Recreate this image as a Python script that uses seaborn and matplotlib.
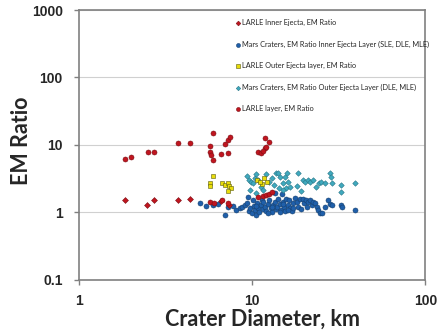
import numpy as np
import pandas as pd
import seaborn as sns
import matplotlib
matplotlib.use('Agg')
import matplotlib.pyplot as plt

# LARLE Inner Ejecta, EM Ratio (red diamonds)
larle_inner_d = [1.84, 2.48, 2.73, 3.74, 4.39, 6.65, 7.37]
larle_inner_r = [1.51, 1.31, 1.51, 1.51, 1.56, 1.47, 1.31]

# LARLE layer, EM Ratio (red circles)
larle_layer_d = [1.84, 2.0, 2.50, 2.73, 3.74, 4.39, 5.98, 5.72, 5.72, 5.78, 5.98, 6.65,
                 6.99, 7.24, 7.5, 7.28, 10.8, 11.3, 11.9, 12.5, 11.8, 12.1, 11.5,
                 10.8, 11.5, 12.0, 12.6, 13.1, 5.72, 6.0, 6.68, 7.24]
larle_layer_r = [6.17, 6.53, 7.74, 7.9, 10.6, 10.6, 14.8, 9.6, 7.74, 7.0, 5.96, 7.3,
                 10.4, 11.9, 13.1, 7.65, 7.74, 7.7, 12.6, 10.9, 9.08, 9.3, 8.2,
                 1.69, 1.74, 1.8, 1.87, 2.0, 1.44, 1.39, 1.52, 1.37]

# LARLE Outer Ejecta layer, EM Ratio (yellow squares)
larle_outer_d = [5.98, 5.72, 5.72, 6.68, 6.99, 7.28, 7.37, 7.57, 7.25, 10.7, 11.4, 11.7, 12.2, 11.1]
larle_outer_r = [3.49, 2.72, 2.48, 2.75, 2.57, 2.72, 2.46, 2.27, 2.09, 3.01, 2.66, 3.26, 2.81, 2.85]

# Mars Craters, EM Ratio Inner Ejecta Layer (SLE, DLE, MLE) (blue circles)
mars_inner_d = [4.99, 5.45, 5.96, 6.37, 6.99, 7.24, 7.77, 8.12, 8.49, 8.79, 9.07, 9.36, 9.48,
                9.61, 9.78, 10.0, 10.2, 10.4, 10.6, 10.7, 10.8, 11.0, 11.2, 11.4, 11.6, 11.8,
                12.1, 12.3, 12.5, 12.8, 13.0, 13.2, 13.5, 13.7, 13.9, 14.2, 14.4, 14.7, 15.0,
                15.2, 15.5, 15.8, 16.1, 16.3, 16.6, 16.9, 17.2, 17.7, 18.2, 18.5, 18.8, 19.2,
                19.7, 20.0, 20.4, 20.8, 21.1, 21.5, 22.1, 22.5, 23.1, 23.7, 24.1, 24.8, 25.5,
                26.4, 27.3, 28.1, 29.1, 32.8, 33.2, 39.1, 13.6, 14.8, 10.1, 11.6, 12.4, 14.4,
                16.1, 10.6, 13.1, 15.1, 17.2]
mars_inner_r = [1.39, 1.26, 1.28, 1.33, 0.91, 1.21, 1.24, 1.08, 1.15, 1.19, 1.28, 1.36, 1.71,
                1.06, 1.15, 0.97, 1.24, 1.08, 0.93, 1.36, 1.15, 1.02, 1.28, 1.52, 1.11, 1.21,
                1.06, 1.33, 1.52, 1.15, 1.02, 1.28, 1.44, 1.11, 1.21, 1.56, 1.33, 1.08, 1.44,
                1.19, 1.06, 1.56, 1.28, 1.52, 1.15, 1.06, 1.36, 1.61, 1.44, 1.19, 1.56, 1.11,
                1.56, 1.36, 1.52, 1.21, 1.44, 1.52, 1.28, 1.44, 1.36, 1.21, 1.08, 0.99, 0.97,
                1.19, 1.52, 1.33, 1.28, 1.28, 1.21, 1.08, 1.91, 1.87, 1.52, 1.44, 0.97, 1.0,
                1.08, 1.24, 1.19, 1.33, 1.15]

# Mars Craters, EM Ratio Outer Ejecta Layer (DLE, MLE) (cyan diamonds)
mars_outer_d = [9.4, 9.61, 9.9, 10.35, 10.6, 10.8, 10.1, 9.78, 10.6, 12.1, 12.6, 13.1, 13.3,
                13.8, 14.2, 14.5, 15.0, 15.4, 15.9, 16.2, 15.7, 16.6, 18.4, 18.2, 19.2, 19.7,
                20.1, 21.0, 21.7, 22.5, 23.3, 24.3, 25.0, 26.2, 28.1, 28.5, 28.8, 32.8, 32.8,
                39.4, 11.3, 11.6, 14.3, 15.1]
mars_outer_r = [3.45, 3.01, 2.85, 3.19, 3.70, 3.01, 2.69, 2.14, 1.91, 3.70, 2.85, 3.19, 2.54,
                3.78, 3.78, 3.38, 2.75, 3.38, 3.78, 2.85, 2.27, 2.40, 3.78, 2.45, 2.09, 3.01,
                2.85, 3.01, 2.81, 3.07, 2.40, 2.75, 2.85, 2.75, 3.78, 3.38, 2.75, 2.54, 2.02,
                2.69, 2.40, 2.14, 2.27, 2.14]

labels = ['LARLE Inner Ejecta, EM Ratio',
          'Mars Craters, EM Ratio Inner Ejecta Layer (SLE, DLE, MLE)',
          'LARLE Outer Ejecta layer, EM Ratio',
          'Mars Craters, EM Ratio Outer Ejecta Layer (DLE, MLE)',
          'LARLE layer, EM Ratio']

sns.set_style('white')
plt.rcParams['font.family'] = ['Liberation Sans', 'DejaVu Sans']

fig = plt.figure(figsize=(4.38, 3.34), dpi=100)
ax = fig.add_axes([0.180, 0.162, 0.791, 0.808])

# drawing order: later series on top
series = [
    (mars_inner_d, mars_inner_r, labels[1], '#1F5FAA', '#16406E', 'o', 13),
    (mars_outer_d, mars_outer_r, labels[3], '#3FA9BE', '#2A7686', 'D', 8),
    (larle_outer_d, larle_outer_r, labels[2], '#E8DC0A', '#5A5A10', 's', 12),
    (larle_inner_d, larle_inner_r, labels[0], '#C0151F', '#7A0E14', 'D', 9),
    (larle_layer_d, larle_layer_r, labels[4], '#C0151F', '#7A0E14', 'o', 13),
]
for d, r, lab, fc, ec, mk, sz in series:
    df = pd.DataFrame({'diameter': d, 'ratio': r})
    sns.scatterplot(data=df, x='diameter', y='ratio', color=fc, edgecolor=ec,
                    marker=mk, s=sz, linewidth=0.4, label=lab, ax=ax)

ax.set_xscale('log')
ax.set_yscale('log')
ax.set_xlim(1, 100)
ax.set_ylim(0.1, 1000)
ax.set_xticks([1, 10, 100])
ax.set_xticklabels(['1', '10', '100'])
ax.set_yticks([0.1, 1, 10, 100, 1000])
ax.set_yticklabels(['0.1', '1', '10', '100', '1000'])
ax.minorticks_off()
ax.yaxis.grid(True, color='#D0D0D0', linewidth=0.8)
ax.xaxis.grid(False)
for sp in ax.spines.values():
    sp.set_color('#808080')
    sp.set_linewidth(1.2)
ax.tick_params(axis='both', direction='out', length=3.5, width=1, color='#808080',
               labelsize=10, left=True, bottom=True)
ax.tick_params(axis='y', pad=8)
ax.tick_params(axis='x', pad=7)
for t in ax.get_xticklabels() + ax.get_yticklabels():
    t.set_fontweight('bold')

ax.set_xlabel('Crater Diameter, km', fontsize=15.5, fontfamily='Lato', fontweight='bold')
ax.set_ylabel('EM Ratio', fontsize=15.5, fontfamily='Lato', fontweight='bold')
ax.xaxis.set_label_coords(0.53, -0.108)
ax.yaxis.set_label_coords(-0.135, 0.515)

handles, labs = ax.get_legend_handles_labels()
order = [labs.index(l) for l in labels]
ax.legend([handles[i] for i in order], [labs[i] for i in order],
          loc='upper left', bbox_to_anchor=(0.445, 0.977), frameon=False,
          prop={'family': 'Lato', 'size': 5.3}, labelspacing=1.95,
          handlelength=0.5, handletextpad=0.3, markerscale=0.8, borderaxespad=0)

fig.savefig('out.png', dpi=100)
